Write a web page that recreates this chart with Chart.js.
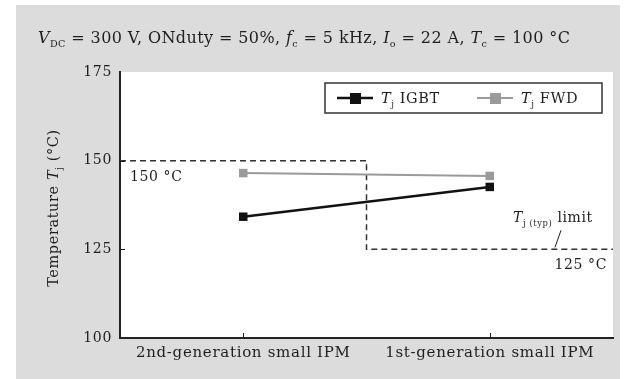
<!DOCTYPE html>
<html>
<head>
<meta charset="utf-8">
<script src="https://cdn.jsdelivr.net/npm/chart.js@4/dist/chart.umd.min.js"></script>
<style>
  html, body { margin: 0; padding: 0; background: #fff; }
  #wrap { width: 624px; height: 379px; }
</style>
</head>
<body>
<div id="wrap"><canvas id="myChart" width="624" height="379"></canvas></div>
<script>
const categories = ['2nd-generation small IPM', '1st-generation small IPM'];
const igbtTemp = [134.2, 142.6];
const fwdTemp = [146.5, 145.7];
const yMin = 100, yMax = 175, yStep = 25;
// Tj limit: 150 °C for the 2nd generation, 125 °C for the 1st
const limitX = [-0.5, 0.5, 0.5, 1.5];
const limitY = [150, 150, 125, 125];

const serif = '"DejaVu Serif", "Liberation Serif", serif';
const ink = '#1e1e1e';

function drawRich(ctx, parts, x, y, size) {
  // parts: text pieces, italic / subscript flags
  for (const p of parts) {
    const s = p.sub ? size * 0.6 : size;
    ctx.font = (p.i ? 'italic ' : '') + s + 'px ' + serif;
    ctx.fillText(p.t, x, y + (p.sub ? size * 0.25 : 0));
    x += ctx.measureText(p.t).width;
  }
  return x;
}

const decor = {
  id: 'decor',
  beforeDraw(chart) {
    const { ctx, chartArea: a } = chart;
    ctx.letterSpacing = '0.7px';
    ctx.save();
    ctx.fillStyle = '#fff';
    ctx.fillRect(0, 0, chart.width, chart.height);
    ctx.fillStyle = '#dcdcdc';
    ctx.fillRect(16, 5, 604, 374);
    ctx.fillStyle = '#fff';
    ctx.fillRect(a.left, a.top, a.right - a.left, a.bottom - a.top);
    ctx.restore();
  },
  afterDraw(chart) {
    const { ctx, chartArea: a, scales } = chart;
    const y = scales.y;
    ctx.save();
    ctx.fillStyle = ink;
    ctx.textBaseline = 'alphabetic';

    // header conditions
    ctx.letterSpacing = '0.4px';
    drawRich(ctx, [
      { t: 'V', i: true }, { t: 'DC', sub: true }, { t: ' = 300 V, ONduty = 50%, ' },
      { t: 'f', i: true }, { t: 'c', sub: true }, { t: ' = 5 kHz, ' },
      { t: 'I', i: true }, { t: 'o', sub: true }, { t: ' = 22 A, ' },
      { t: 'T', i: true }, { t: 'c', sub: true }, { t: ' = 100 °C' }
    ], 38, 43, 16);
    ctx.letterSpacing = '0.6px';

    // y axis title
    ctx.save();
    ctx.translate(58, (a.top + a.bottom) / 2 + 3);
    ctx.rotate(-Math.PI / 2);
    const parts = [{ t: 'Temperature ' }, { t: 'T', i: true }, { t: 'j', sub: true }, { t: ' (°C)' }];
    let w = 0;
    for (const p of parts) {
      ctx.font = (p.i ? 'italic ' : '') + (p.sub ? 14.5 * 0.6 : 14.5) + 'px ' + serif;
      w += ctx.measureText(p.t).width;
    }
    drawRich(ctx, parts, -w / 2, 0, 14.5);
    ctx.restore();

    // inward ticks
    ctx.strokeStyle = ink;
    ctx.lineWidth = 1;
    ctx.beginPath();
    for (let v = yMin + yStep; v < yMax; v += yStep) {
      const py = Math.round(y.getPixelForValue(v)) + 0.5;
      ctx.moveTo(a.left, py); ctx.lineTo(a.left + 5, py);
    }
    categories.forEach((c, i) => {
      const px = Math.round(scales.x.getPixelForValue(i)) + 0.5;
      ctx.moveTo(px, a.bottom); ctx.lineTo(px, a.bottom - 5);
    });
    ctx.stroke();

    // limit annotations
    ctx.font = '14px ' + serif;
    ctx.textAlign = 'left';
    ctx.fillText('150 °C', a.left + 10, y.getPixelForValue(150) + 20);
    ctx.textAlign = 'right';
    ctx.fillText('125 °C', a.right - 6, y.getPixelForValue(125) + 20);
    ctx.textAlign = 'left';
    drawRich(ctx, [{ t: 'T', i: true }, { t: 'j (typ)', sub: true }, { t: ' limit' }], a.right - 100, y.getPixelForValue(125) - 27, 14);
    ctx.beginPath();
    ctx.moveTo(a.right - 52, y.getPixelForValue(125) - 19);
    ctx.lineTo(a.right - 58, y.getPixelForValue(125) - 2);
    ctx.stroke();

    // legend
    const bx = 325, by = 83, bw = 277, bh = 30;
    ctx.fillStyle = '#fff';
    ctx.fillRect(bx, by, bw, bh);
    ctx.strokeStyle = '#333';
    ctx.lineWidth = 1.5;
    ctx.strokeRect(bx, by, bw, bh);
    const items = [
      { ds: chart.data.datasets[0], x: bx + 12 },
      { ds: chart.data.datasets[1], x: bx + 152 }
    ];
    for (const it of items) {
      const my = by + bh / 2;
      ctx.strokeStyle = it.ds.borderColor;
      ctx.lineWidth = it.ds.borderWidth;
      ctx.beginPath();
      ctx.moveTo(it.x, my); ctx.lineTo(it.x + 36, my);
      ctx.stroke();
      ctx.fillStyle = it.ds.pointBackgroundColor;
      ctx.fillRect(it.x + 13, my - 5, 11, 11);
      ctx.fillStyle = ink;
      drawRich(ctx, [{ t: 'T', i: true }, { t: 'j', sub: true }, { t: ' ' + it.ds.label }], it.x + 44, my + 5, 14.5);
    }
    ctx.restore();
  }
};

const chart = new Chart(document.getElementById('myChart').getContext('2d'), {
  type: 'line',
  data: {
    labels: categories,
    datasets: [
      {
        label: 'IGBT', data: igbtTemp,
        borderColor: '#111', backgroundColor: '#111', pointBackgroundColor: '#111',
        borderWidth: 2.5, pointStyle: 'rect', pointRadius: 6, pointBorderWidth: 0
      },
      {
        label: 'FWD', data: fwdTemp,
        borderColor: '#9a9a9a', backgroundColor: '#9a9a9a', pointBackgroundColor: '#9a9a9a',
        borderWidth: 2, pointStyle: 'rect', pointRadius: 6, pointBorderWidth: 0
      },
      {
        label: 'limit', xAxisID: 'x2',
        data: limitX.map((x, i) => ({ x: x, y: limitY[i] })),
        borderColor: '#333', borderWidth: 1.5, borderDash: [6, 4],
        pointRadius: 0, tension: 0, order: 3
      }
    ]
  },
  options: {
    responsive: false,
    animation: false,
    layout: { padding: { left: 16, right: 11, top: 72, bottom: 14 } },
    plugins: { legend: { display: false }, tooltip: { enabled: false }, title: { display: false } },
    scales: {
      x: {
        type: 'category', offset: true,
        grid: { display: false, drawTicks: false },
        border: { color: '#222', width: 2 },
        ticks: { color: ink, font: { family: serif, size: 15 }, padding: 6, maxRotation: 0 },
        afterFit(s) { s.height = 27; }
      },
      x2: { type: 'linear', min: -0.5, max: 1.5, display: false },
      y: {
        min: yMin, max: yMax,
        grid: { display: false, drawTicks: false },
        border: { color: '#222', width: 2 },
        ticks: { stepSize: yStep, color: ink, font: { family: serif, size: 14 }, padding: 8 },
        afterFit(s) { s.width = 104; }
      }
    }
  },
  plugins: [decor]
});
</script>
</body>
</html>
